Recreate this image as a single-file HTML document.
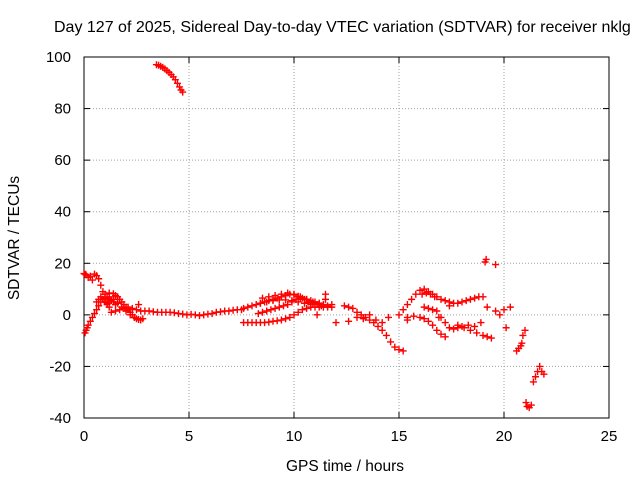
<!DOCTYPE html>
<html><head><meta charset="utf-8"><style>
body{margin:0;background:#fff;}
svg{display:block;font-family:"Liberation Sans",sans-serif;}
</style></head><body>
<svg id="chart" width="640" height="480">
<text x="54" y="32" font-size="16" fill="#000">Day 127 of 2025, Sidereal Day-to-day VTEC variation (SDTVAR) for receiver nklg</text>
<g id="grid"></g><g id="axes"></g><g id="marks"></g>
<text x="345" y="471" font-size="15.5" text-anchor="middle">GPS time / hours</text>
<text transform="translate(19,238) rotate(-90)" font-size="15.5" text-anchor="middle">SDTVAR / TECUs</text>
</svg>
<script>
const xTicks=[0,5,10,15,20,25];
const yTicks=[-40,-20,0,20,40,60,80,100];
const hours=[3.45,3.55,3.65,3.75,3.85,3.95,4.05,4.15,4.25,4.35,4.45,4.55,4.62,4.7,
0,0.05,0.1,0.2,0.3,0.4,0.5,0.6,0.7,0.8,0.9,1.0,1.1,1.2,
0.05,0.1,0.15,0.2,0.3,0.4,0.5,0.6,0.7,0.8,0.9,1.0,1.1,1.2,1.3,1.4,1.5,
1.0,1.2,1.4,1.5,1.6,1.7,1.8,1.9,2.0,2.1,2.2,2.3,2.4,2.5,2.6,2.7,2.8,
1.3,1.5,1.7,1.9,2.1,2.3,2.5,2.7,2.9,3.1,3.3,3.5,3.7,3.9,4.1,4.3,4.5,4.7,4.9,5.1,5.3,5.5,5.7,5.9,6.1,6.3,6.5,6.7,6.9,7.1,7.3,7.5,
7.6,7.8,8.0,8.2,8.4,8.6,8.8,9.0,9.2,9.4,9.6,9.8,10.0,10.2,10.4,10.6,10.8,11.0,11.2,11.4,11.6,11.8,12.0,
7.6,7.8,8.0,8.2,8.4,8.6,8.8,9.0,9.2,9.4,9.6,9.8,10.0,10.2,10.4,10.6,10.8,11.0,11.2,11.4,11.6,11.8,
8.4,8.7,9.0,9.3,9.6,9.9,10.2,10.5,10.8,11.1,
8.3,8.5,8.7,8.9,9.1,9.3,9.5,9.7,9.9,10.1,10.3,10.5,10.7,10.9,11.1,11.3,11.5,
8.5,8.8,9.1,9.4,9.7,10.0,10.3,10.6,10.9,11.2,11.5,
1.2,1.4,1.6,1.8,2.0,2.2,2.4,2.6,
0.6,0.7,0.8,0.9,1.0,1.1,
12.4,12.6,12.8,13.0,13.2,13.4,13.6,13.8,14.0,14.2,14.4,14.6,14.8,15.0,15.2,15.4,
12.6,13.0,13.3,13.6,13.9,14.2,14.5,
15.0,15.2,15.4,15.6,15.8,16.0,16.2,16.4,16.6,16.8,17.0,17.2,17.4,17.6,17.8,18.0,18.2,18.4,18.6,18.8,19.0,
16.1,16.3,16.5,16.7,16.9,
15.4,15.7,16.0,16.2,16.4,16.6,16.8,17.0,17.2,17.4,
16.2,16.4,16.6,16.8,17.0,17.2,17.4,17.6,17.8,18.0,18.3,18.6,18.9,
17.8,18.1,18.4,18.7,19.0,19.2,19.4,19.6,
19.1,19.15,19.2,
19.6,19.8,20.0,20.1,20.3,20.6,
20.7,20.8,20.85,20.9,21.0,21.05,
21.1,21.2,21.3,21.4,
21.5,21.6,21.7,21.8,21.9,22.0];
const values=[97,96.8,96.4,96,95.4,94.7,94,93.2,92.3,91.2,89.8,88.4,87.2,86.4,
16,15.8,15.5,14.5,15,13.5,15.8,15.2,14,11.5,9,6,4.5,3,
-7,-6,-5,-4,-2.5,-1,0.5,2,3.5,5,6,6.5,6.5,6,5.5,5,4,
8,8.5,8.2,7.5,7,6,5,4,3,2,1,0,-1,-1.5,-1.8,-2,-1.5,
1,1.5,2,2.5,3,2.5,2,1.5,1.5,1.5,1.2,1,1,1,1,0.8,0.5,0.3,0,0.2,0,-0.3,0,0.3,0.5,1,1.2,1.5,1.5,1.8,2,
2,2.5,3,3.5,4,4.5,5,5.5,6,6.5,7,7.5,8,7.8,7.2,6.5,6,5.5,5,4.5,4,3.5,3,
-3,-3,-3,-3,-3,-3,-3,-2.8,-2.5,-2.3,-2,-1.5,-1,0,1,2,2.5,3,3,3,3,3,
4,4.5,5,5.5,5.8,5.8,5.5,5,4.5,4,
0,0.5,1,1.5,2,2.5,3,3.5,4,5,6,6.5,6,5,4.5,4,3.5,
6,6.5,7,7.5,8,8.5,8,7,6,5,4.5,
8,7,6,4.5,3,1.5,0,-1,
4,5,6,7,6,5,
4,3.5,3,2.5,1,0,-1,-2,-3,-4.5,-6,-8,-10.5,-12.5,-13.5,-14,
-2,-2.5,-1,-1.5,0,-2,-3,
-1,0,2,4,6,8,9.5,10,9,8,7,6,5.5,5,4.5,4.5,5,5.5,6,6.5,7,
7,8,8.5,8,7,
-1,-1,-0.5,-1,-1.5,-2.5,-4,-6,-7.5,-8.5,
3.5,3,2.5,2,1.5,-1,-3,-5,-5.5,-5,-4.5,-4,-4.5,
-3,-4,-5,-6,-7,-8,-8.5,-9,
19.5,20.5,21.5,
3,1.5,0,2,-5,3,
-14,-13,-12,-11,-8,-6,
-34,-35.5,-36,-35,
-26,-24,-22,-20,-22,-23];
const X0=84,X1=609,Y0=418,Y1=57;
function sx(h){return X0+(h-0)/25*(X1-X0);}
function sy(v){return Y0-(v+40)/140*(Y0-Y1);}
const NS="http://www.w3.org/2000/svg";
function mk(tag,a,parent){const e=document.createElementNS(NS,tag);for(const k in a)e.setAttribute(k,a[k]);parent.appendChild(e);return e;}
const grid=document.getElementById('grid'),axes=document.getElementById('axes'),marks=document.getElementById('marks');
xTicks.forEach(t=>{const x=sx(t);
 if(t>0&&t<25){const g=mk('line',{x1:x,x2:x,y1:Y0,y2:Y1,stroke:'#a0a0a0','stroke-dasharray':'1,2'},grid);
 
 }
 mk('line',{x1:x,x2:x,y1:Y0,y2:Y0-6,stroke:'#000'},axes);
 mk('line',{x1:x,x2:x,y1:Y1,y2:Y1+6,stroke:'#000'},axes);
 const l=mk('text',{x:x,y:Y0+23,'font-size':15,'text-anchor':'middle'},axes);l.textContent=t;
 
 
});
yTicks.forEach(t=>{const y=sy(t);
 if(t>-40&&t<100){const g=mk('line',{x1:X0,x2:X1,y1:y,y2:y,stroke:'#a0a0a0','stroke-dasharray':'1,2'},grid);
 
 }
 mk('line',{x1:X0,x2:X0+6,y1:y,y2:y,stroke:'#000'},axes);
 mk('line',{x1:X1,x2:X1-6,y1:y,y2:y,stroke:'#000'},axes);
 const l=mk('text',{x:X0-13,y:y+5,'font-size':15,'text-anchor':'end'},axes);l.textContent=t;
 
 
});
const frame=mk('rect',{x:X0,y:Y1,width:X1-X0,height:Y0-Y1,fill:'none',stroke:'#000'},axes);


hours.forEach((h,i)=>{const x=sx(h),y=sy(values[i]);
 const p=mk('path',{d:`M${x-3.5},${y}H${x+3.5}M${x},${y-3.5}V${y+3.5}`,stroke:'#ff0000','stroke-width':1.4},marks);
 
 
});
</script>
</body></html>
